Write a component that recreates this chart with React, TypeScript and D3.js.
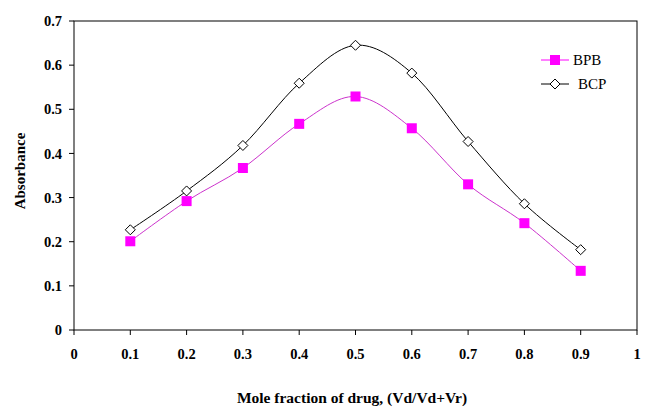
import * as d3 from 'd3';

const moleFractions = [0.1, 0.2, 0.3, 0.4, 0.5, 0.6, 0.7, 0.8, 0.9];
const bpbValues = [0.201, 0.292, 0.367, 0.467, 0.529, 0.457, 0.33, 0.242, 0.134];
const bcpValues = [0.227, 0.315, 0.418, 0.559, 0.645, 0.582, 0.427, 0.286, 0.182];
const xTicks = [0, 0.1, 0.2, 0.3, 0.4, 0.5, 0.6, 0.7, 0.8, 0.9, 1];
const yTicks = [0, 0.1, 0.2, 0.3, 0.4, 0.5, 0.6, 0.7];

const width = 662;
const height = 416;
const margin = { top: 21, right: 25, bottom: 86, left: 74 };

const font = '"Liberation Serif", "Times New Roman", serif';

export default function App() {
  const x = d3.scaleLinear().domain([0, 1]).range([margin.left, width - margin.right]);
  const y = d3.scaleLinear().domain([0, 0.7]).range([height - margin.bottom, margin.top]);

  const line = d3
    .line<number>()
    .x((_, i) => x(moleFractions[i]))
    .y(d => y(d))
    .curve(d3.curveCardinal.tension(0));

  const x0 = x(0);
  const x1 = x(1);
  const y0 = y(0);
  const y1 = y(0.7);

  return (
    <svg
      width={width}
      height={height}
      style={{ position: 'absolute', left: 0, top: 0, background: '#fff' }}
    >
      <rect x={x0} y={y1} width={x1 - x0} height={y0 - y1} fill="none" stroke="#000" strokeWidth={1} />

      {yTicks.map(t => (
        <g key={`y${t}`}>
          <line x1={x0 - 5} x2={x0} y1={y(t)} y2={y(t)} stroke="#000" />
          <text
            x={x0 - 12}
            y={y(t)}
            dy="0.35em"
            textAnchor="end"
            fontFamily={font}
            fontWeight="bold"
            fontSize={14.5}
          >
            {t}
          </text>
        </g>
      ))}

      {xTicks.map(t => (
        <g key={`x${t}`}>
          <line x1={x(t)} x2={x(t)} y1={y0} y2={y0 + 5} stroke="#000" />
          <text
            x={x(t)}
            y={y0 + 29}
            textAnchor="middle"
            fontFamily={font}
            fontWeight="bold"
            fontSize={14.5}
          >
            {t}
          </text>
        </g>
      ))}

      <text
        transform={`translate(25,171) rotate(-90)`}
        textAnchor="middle"
        fontFamily={font}
        fontWeight="bold"
        fontSize={15}
      >
        Absorbance
      </text>
      <text
        x={352}
        y={403}
        textAnchor="middle"
        fontFamily={font}
        fontWeight="bold"
        fontSize={15.5}
      >
        Mole fraction of drug, (Vd/Vd+Vr)
      </text>

      <path d={line(bcpValues) ?? ''} fill="none" stroke="#000" strokeWidth={1} />
      <path d={line(bpbValues) ?? ''} fill="none" stroke="#cc33cc" strokeWidth={1} />

      {bcpValues.map((v, i) => {
        const cx = x(moleFractions[i]);
        const cy = y(v);
        return (
          <path
            key={`bcp${i}`}
            d={`M${cx},${cy - 5}L${cx + 5},${cy}L${cx},${cy + 5}L${cx - 5},${cy}Z`}
            fill="#fff"
            stroke="#000"
          />
        );
      })}
      {bpbValues.map((v, i) => (
        <rect
          key={`bpb${i}`}
          x={x(moleFractions[i]) - 5}
          y={y(v) - 5}
          width={10}
          height={10}
          fill="#ff00ff"
        />
      ))}

      <g>
        <line x1={541} x2={569} y1={60} y2={60} stroke="#ff00ff" />
        <rect x={550} y={55} width={10} height={10} fill="#ff00ff" />
        <text x={573} y={60} dy="0.35em" fontFamily={font} fontSize={15}>
          BPB
        </text>
        <line x1={541} x2={569} y1={84} y2={84} stroke="#000" />
        <path d="M555,79L560,84L555,89L550,84Z" fill="#fff" stroke="#000" />
        <text x={578} y={84} dy="0.35em" fontFamily={font} fontSize={15}>
          BCP
        </text>
      </g>
    </svg>
  );
}
